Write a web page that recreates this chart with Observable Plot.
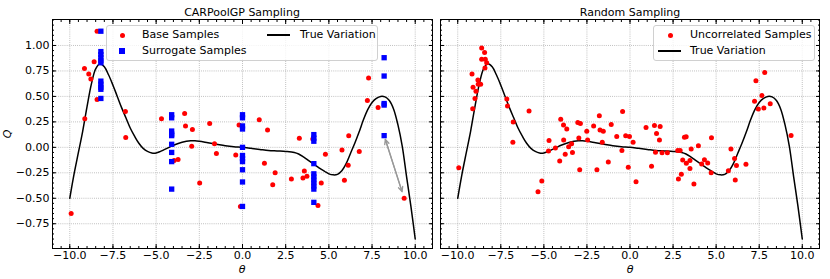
<!DOCTYPE html>
<html><head><meta charset="utf-8">
<script src="https://cdn.jsdelivr.net/npm/d3@7"></script>
<script src="https://cdn.jsdelivr.net/npm/@observablehq/plot@0.6"></script>
<style>
body{margin:0;background:#fff;font-family:"DejaVu Sans",sans-serif;}
#root{position:relative;width:830px;height:279px;overflow:hidden;background:#fff}
.abs{position:absolute;white-space:nowrap;font-size:11px;color:#000;line-height:1}
.title{transform:translate(-50%,-50%)}
.leg{position:absolute;background:rgba(255,255,255,0.8);border:1px solid #d0d0d0;border-radius:3px;box-sizing:border-box}
.sym{position:absolute}
svg{position:absolute;top:0}
</style></head><body><div id="root"></div>
<script>
// ---- data ----
const curveX = [-10.0,-9.75,-9.5,-9.25,-9.0,-8.75,-8.5,-8.25,-8.0,-7.75,-7.5,-7.25,-7.0,-6.75,-6.5,-6.25,-6.0,-5.75,-5.5,-5.25,-5.0,-4.75,-4.5,-4.25,-4.0,-3.5,-3.0,-2.75,-2.5,-2.0,-1.5,-1.0,-0.5,0.0,0.5,1.0,1.5,2.0,2.5,3.0,3.25,3.5,3.75,4.0,4.25,4.5,4.75,5.0,5.25,5.5,5.75,6.0,6.25,6.5,6.75,7.0,7.25,7.5,7.75,8.0,8.25,8.5,8.75,9.0,9.25,9.5,9.75,10.0];
const curveY = [-0.50,-0.26,-0.05,0.16,0.40,0.62,0.77,0.82,0.79,0.71,0.61,0.50,0.39,0.29,0.19,0.11,0.04,-0.01,-0.04,-0.055,-0.055,-0.04,-0.02,0.0,0.02,0.05,0.065,0.065,0.06,0.045,0.03,0.015,0.005,0.0,-0.01,-0.02,-0.03,-0.035,-0.04,-0.05,-0.065,-0.09,-0.12,-0.15,-0.18,-0.21,-0.235,-0.26,-0.27,-0.265,-0.23,-0.16,-0.06,0.04,0.15,0.27,0.37,0.44,0.48,0.50,0.495,0.46,0.375,0.22,0.01,-0.29,-0.58,-0.90];

const baseX = [-9.92,-9.13,-9.15,-8.9,-8.78,-8.59,-8.42,-8.42,-6.78,-6.76,-4.69,-3.96,-3.73,-3.35,-3.30,-2.9,-2.94,-2.48,-1.9,-1.62,-1.51,-0.39,-0.2,-0.12,0.97,1.45,1.27,1.89,1.75,2.83,3.29,3.5,3.58,3.73,4.07,4.37,4.56,4.8,5.76,5.9,6.15,6.12,6.76,7.23,7.3,7.85,9.36];
const baseY = [-0.65,0.28,0.775,0.72,0.67,0.84,1.14,0.47,0.353,0.097,0.28,-0.13,-0.12,0.333,0.21,0.174,0.01,-0.35,0.235,0.036,-0.06,-0.075,0.22,-0.58,0.27,0.17,-0.156,-0.25,-0.367,-0.31,0.09,-0.30,-0.233,-0.283,0.083,-0.57,-0.35,-0.067,-0.026,-0.323,0.115,-0.176,-0.04,0.46,0.68,0.39,-0.50];

const surrX = [-8.2,-8.2,-8.2,-8.2,-8.2,-8.2,-8.2,-8.2,-8.2,-8.2,-8.2,
  -4.1,-4.1,-4.1,-4.1,-4.1,-4.1,-4.1,-4.1,-4.1,
  0,0,0,0,0,0,0,0,0,0,0,
  4.13,4.13,4.13,4.13,4.13,4.13,4.13,4.13,4.13,4.13,4.13,
  8.2,8.2,8.2,8.2,8.2];
const surrY = [1.14,0.94,0.91,0.88,0.85,0.83,0.65,0.62,0.59,0.57,0.48,
  0.32,0.29,0.16,0.13,0.115,0.03,-0.05,-0.14,-0.41,
  0.32,0.29,0.21,0.18,0.0,-0.08,-0.11,-0.14,-0.22,-0.34,-0.58,
  0.125,0.09,0.06,-0.16,-0.26,-0.29,-0.32,-0.35,-0.38,-0.41,-0.54,
  0.88,0.70,0.43,0.415,0.115];

const randX = [-9.94,-9.17,-9.13,-9.11,-9.0,-8.94,-8.83,-8.81,-8.67,-8.61,-8.61,-8.44,-8.40,-8.42,-8.32,-7.15,-7.11,-6.78,-6.8,-5.86,-5.34,-5.12,-4.70,-4.73,-4.33,-4.02,-4.08,-3.86,-3.85,-3.67,-3.76,-3.56,-3.39,-3.34,-3.03,-2.88,-2.97,-2.92,-2.51,-2.46,-2.11,-1.78,-1.74,-1.55,-1.92,-1.61,-1.26,-1.09,-0.77,-0.43,-0.47,-0.25,-0.03,-0.1,0.18,0.35,0.93,1.42,1.54,1.75,1.71,1.48,1.86,2.17,1.25,2.77,2.91,3.16,3.26,3.06,3.27,3.48,3.48,2.98,2.81,3.55,3.71,3.97,4.16,4.32,4.51,4.71,4.73,5.71,5.86,6.07,6.11,6.18,6.73,7.23,7.31,7.45,7.66,7.77,7.82,8.14,9.35];
const randY = [-0.2,0.72,0.38,0.59,0.48,0.55,0.66,0.62,0.62,0.975,0.865,0.93,0.865,0.78,0.83,0.475,0.405,0.25,0.05,0.357,-0.435,-0.33,0.066,-0.037,-0.006,0.277,-0.135,0.22,0.073,0.18,-0.068,0.007,0.036,-0.05,0.243,0.233,0.091,-0.22,0.158,0.073,0.21,0.31,0.17,0.157,-0.22,0.05,-0.143,0.225,0.107,0.352,-0.032,0.115,0.107,-0.196,0.049,-0.338,0.195,0.215,0.137,0.205,0.072,-0.047,-0.053,-0.053,-0.186,-0.032,-0.032,0.1,0.105,-0.124,-0.157,-0.13,-0.208,-0.263,-0.31,-0.016,-0.36,0.016,-0.163,-0.122,-0.153,-0.25,0.094,-0.229,-0.016,-0.109,-0.32,-0.178,-0.165,0.453,0.654,0.376,0.508,0.386,0.735,0.428,0.117];

const arrowFrom = [8.2, 0.115];   // surrogate sample
const arrowTo = [9.36, -0.50];    // base sample

const xTicks = [-10,-7.5,-5,-2.5,0,2.5,5,7.5,10];
const yTicks = [-0.75,-0.5,-0.25,0,0.25,0.5,0.75,1.0];
const titles = ["CARPoolGP Sampling","Random Sampling"];
const xLabel = "θ", yLabel = "Q";
const legendLeft = ["Base Samples","Surrogate Samples","True Variation"];
const legendRight = ["Uncorrelated Samples","True Variation"];

// ---- build ----
const xMinor = d3.range(-11, 11.001, 0.5);
const yMinor = d3.range(-0.95, 1.2501, 0.05).map(v => Math.round(v*100)/100);
const curve = curveX.map((x,i)=>({x, y: curveY[i]}));
const base = baseX.map((x,i)=>({x, y: baseY[i]}));
const surr = surrX.map((x,i)=>({x, y: surrY[i]}));
const rand = randX.map((x,i)=>({x, y: randY[i]}));
const fx = d3.format(".1f"), fy = d3.format(".2f");
const none = () => "";

function axes(labelY) {
  const grid = {stroke:"#a0a0a0", strokeOpacity:1, strokeWidth:0.8, strokeDasharray:"0.8,1.3"};
  return [
    Plot.gridX(xTicks, grid),
    Plot.gridY(yTicks, grid),
    Plot.axisX(xMinor, {anchor:"bottom", tickSize:-2, tickFormat:none, label:null}),
    Plot.axisX(xMinor, {anchor:"top", tickSize:-2, tickFormat:none, label:null}),
    Plot.axisY(yMinor, {anchor:"left", tickSize:-2, tickFormat:none, label:null}),
    Plot.axisY(yMinor, {anchor:"right", tickSize:-2, tickFormat:none, label:null}),
    Plot.axisX(xTicks, {anchor:"bottom", tickSize:-4, tickPadding:7, tickFormat:fx, label:null}),
    Plot.axisX(xTicks, {anchor:"top", tickSize:-4, tickFormat:none, label:null}),
    Plot.axisY(yTicks, {anchor:"left", tickSize:-4, tickPadding:7, tickFormat: labelY ? fy : none, label:null}),
    Plot.axisY(yTicks, {anchor:"right", tickSize:-4, tickFormat:none, label:null}),
    Plot.frame({stroke:"#000", strokeWidth:1})
  ];
}

function panel(width, ml, mr, labelY, marks) {
  return Plot.plot({
    width, height: 279,
    marginLeft: ml, marginRight: mr, marginTop: 19, marginBottom: 31,
    x: {domain: [-11, 11]},
    y: {domain: [-0.993, 1.255]},
    style: {fontFamily: "DejaVu Sans", fontSize: "11px", color: "#000", background: "transparent", overflow: "visible"},
    marks: [...axes(labelY), ...marks]
  });
}

const lineMark = (d) => Plot.line(d, {x:"x", y:"y", stroke:"#000", strokeWidth:1.5, curve:"catmull-rom"});
const arrowData = [{x1:arrowFrom[0], y1:arrowFrom[1], x2:arrowTo[0], y2:arrowTo[1]}];
const arrowOpts = {stroke:"#999", strokeWidth:1.3, headLength:6, headAngle:50};

const left = panel(436, 52, 4, true, [
  lineMark(curve),
  Plot.arrow(arrowData, {x1:"x1", y1:"y1", x2:"x2", y2:"y2", insetStart:4, insetEnd:7, ...arrowOpts}),
  Plot.arrow(arrowData, {x1:"x2", y1:"y2", x2:"x1", y2:"y1", insetStart:7, insetEnd:4, ...arrowOpts}),
  Plot.dot(base, {x:"x", y:"y", r:2.5, fill:"#ff0000", stroke:"none"}),
  Plot.dot(surr, {x:"x", y:"y", r:3.0, symbol:"square", fill:"#0000ff", stroke:"none"})
]);
const right = panel(394, 4, 11, false, [
  lineMark(curve),
  Plot.dot(rand, {x:"x", y:"y", r:2.5, fill:"#ff0000", stroke:"none"})
]);

const root = document.getElementById("root");
left.style.left = "0px";
right.style.left = "436px";
root.appendChild(left);
root.appendChild(right);

function addText(txt, x, y, cls, extra) {
  const d = document.createElement("div");
  d.className = "abs " + (cls||"");
  d.textContent = txt;
  d.style.left = x + "px"; d.style.top = y + "px";
  if (extra) Object.assign(d.style, extra);
  root.appendChild(d);
  return d;
}
addText(titles[0], 242, 12, "title");
addText(titles[1], 630, 12, "title");
addText(xLabel, 242, 270, "title", {fontStyle:"italic", lineHeight:"0.9"});
addText(xLabel, 630, 270, "title", {fontStyle:"italic", lineHeight:"0.9"});
addText(yLabel, 7, 134, "title", {fontStyle:"italic", transform:"translate(-50%,-50%) rotate(-90deg)"});

function legend(left, top, w, h, items) {
  const box = document.createElement("div");
  box.className = "leg";
  Object.assign(box.style, {left:left+"px", top:top+"px", width:w+"px", height:h+"px"});
  root.appendChild(box);
  for (const it of items) {
    const s = document.createElement("div");
    s.className = "sym";
    if (it.kind === "dot") Object.assign(s.style, {left:(it.sx-2.5)+"px", top:(it.sy-2.5)+"px", width:"5px", height:"5px", borderRadius:"50%", background:"#ff0000"});
    if (it.kind === "sq") Object.assign(s.style, {left:(it.sx-2.7)+"px", top:(it.sy-2.7)+"px", width:"5.4px", height:"5.4px", background:"#0000ff"});
    if (it.kind === "line") Object.assign(s.style, {left:it.sx+"px", top:(it.sy-0.75)+"px", width:"23px", height:"1.5px", background:"#000"});
    box.appendChild(s);
    const t = document.createElement("div");
    t.className = "abs";
    t.textContent = it.label;
    Object.assign(t.style, {left:it.tx+"px", top:(it.sy-6)+"px", fontSize:"11px"});
    box.appendChild(t);
  }
}
legend(106, 25, 272, 36, [
  {kind:"dot", sx:15, sy:9, tx:35, label:legendLeft[0]},
  {kind:"sq", sx:15, sy:25, tx:35, label:legendLeft[1]},
  {kind:"line", sx:160, sy:9, tx:193, label:legendLeft[2]}
]);
legend(653, 25, 162, 36, [
  {kind:"dot", sx:16, sy:9, tx:36, label:legendRight[0]},
  {kind:"line", sx:4, sy:25, tx:36, label:legendRight[1]}
]);
</script></body></html>
